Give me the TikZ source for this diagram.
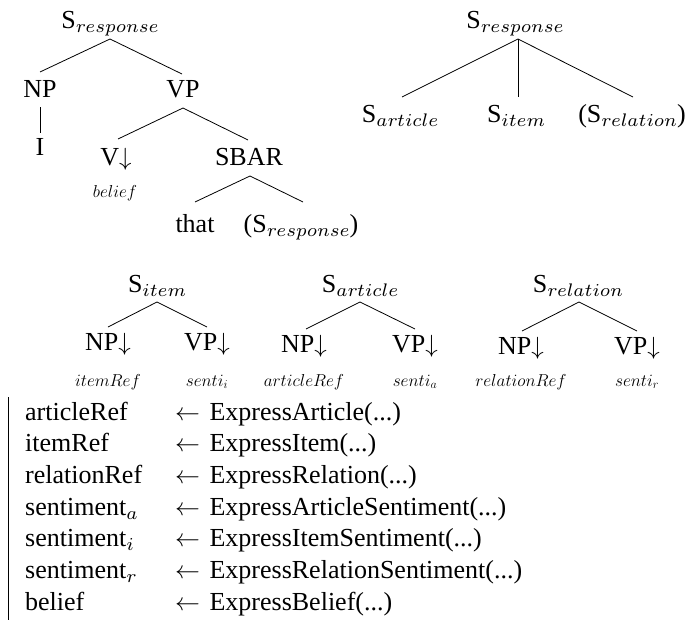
\documentclass[tikz,border=0pt]{standalone}
\usepackage{fontspec}
\setmainfont{Liberation Serif}
% subscripts in the 7pt design of the math italic, scaled up
\font\lmsubfont=cmmi7 at 18.2pt
\newcommand\subsc[1]{\raisebox{-4pt}{\lmsubfont #1}}
\newcommand\ruleArrow{$\leftarrow$\hspace{3pt} }
\begin{document}
\begin{tikzpicture}[x=1pt,y=-1pt,
  cat/.style={anchor=base, inner sep=0pt, font=\fontsize{26}{31}\selectfont},
  lex/.style={anchor=base, inner sep=0pt, font=\fontsize{18.2}{22}\selectfont},
  row/.style={anchor=base west, inner sep=0pt, font=\fontsize{26}{31}\selectfont},
  edge/.style={line width=0.8pt}]
\useasboundingbox (0,0) rectangle (688,621);

% ---- elementary tree for a belief response ----
\node[cat] (r1)   at (110,28)  {S\subsc{response}};
\node[cat] (np1)  at (40,97)   {NP};
\node[cat] (vp1)  at (183,97)  {VP};
\node[cat] (i1)   at (40,155)  {I};
\node[cat] (v1)   at (116,165) {V$\downarrow$};
\node[cat] (sbar) at (249,165) {SBAR};
\node[lex] (bel)  at (115,197) {$belief$};
\node[cat] (that) at (195,232) {that};
\node[cat] (rs)   at (301,232) {(S\subsc{response})};

\draw[edge] ([yshift=-11pt]r1.base) -- ([yshift=25pt]np1.base);
\draw[edge] ([yshift=-11pt]r1.base) -- ([xshift=-1pt,yshift=23pt]vp1.base);
\draw[edge] ([yshift=-10pt]np1.base) -- ([yshift=22pt]i1.base);
\draw[edge] ([yshift=-11pt]vp1.base) -- ([xshift=2pt,yshift=26pt]v1.base);
\draw[edge] ([yshift=-11pt]vp1.base) -- ([xshift=-1pt,yshift=25pt]sbar.base);
\draw[edge] ([xshift=1pt,yshift=-11pt]sbar.base) -- ([yshift=30pt]that.base);
\draw[edge] ([xshift=1pt,yshift=-11pt]sbar.base) -- ([xshift=2pt,yshift=30pt]rs.base);

% ---- response expansion ----
\node[cat] (r2) at (515,28)  {S\subsc{response}};
\node[cat] (sa) at (400,122) {S\subsc{article}};
\node[cat] (si) at (516,122) {S\subsc{item}};
\node[cat] (sr) at (632,122) {(S\subsc{relation})};

\draw[edge] ([xshift=3pt,yshift=-11pt]r2.base) -- ([xshift=2pt,yshift=25pt]sa.base);
\draw[edge] ([xshift=3pt,yshift=-11pt]r2.base) -- ([xshift=2pt,yshift=25pt]si.base);
\draw[edge] ([xshift=3pt,yshift=-11pt]r2.base) -- ([xshift=1pt,yshift=25pt]sr.base);

% ---- item, article and relation trees ----
\node[cat] (ti)  at (157,292) {S\subsc{item}};
\node[cat] (npi) at (108,350) {NP$\downarrow$};
\node[cat] (vpi) at (207,350) {VP$\downarrow$};
\node[lex] (li)  at (108,386) {$itemRef$};
\node[lex] (si2) at (207,386) {$senti_i$};
\draw[edge] ([yshift=-10pt]ti.base) -- ([yshift=23pt]npi.base);
\draw[edge] ([yshift=-10pt]ti.base) -- ([yshift=23pt]vpi.base);

\node[cat] (ta)  at (360,292) {S\subsc{article}};
\node[cat] (npa) at (304,352) {NP$\downarrow$};
\node[cat] (vpa) at (415,352) {VP$\downarrow$};
\node[lex] (la)  at (304,386) {$articleRef$};
\node[lex] (sa2) at (415,386) {$senti_a$};
\draw[edge] ([yshift=-10pt]ta.base) -- ([xshift=2pt,yshift=23pt]npa.base);
\draw[edge] ([yshift=-10pt]ta.base) -- ([yshift=23pt]vpa.base);

\node[cat] (tr)  at (578,292) {S\subsc{relation}};
\node[cat] (npr) at (521,354) {NP$\downarrow$};
\node[cat] (vpr) at (637,354) {VP$\downarrow$};
\node[lex] (lr)  at (521,386) {$relationRef$};
\node[lex] (sr2) at (637,386) {$senti_r$};
\draw[edge] ([xshift=1pt,yshift=-10pt]tr.base) -- ([xshift=1pt,yshift=23pt]npr.base);
\draw[edge] ([xshift=1pt,yshift=-10pt]tr.base) -- ([yshift=23pt]vpr.base);

% ---- realisation rules ----
\coordinate (bartop) at (8,397);
\coordinate (barbot) at (8,620);
\draw[edge] (bartop) -- (barbot);

\node[row] (k1) at (25,420)   {articleRef};
\node[row] (k2) at (25,451.7) {itemRef};
\node[row] (k3) at (25,483.4) {relationRef};
\node[row] (k4) at (25,515.1) {sentiment\subsc{a}};
\node[row] (k5) at (25,546.8) {sentiment\subsc{i}};
\node[row] (k6) at (25,578.5) {sentiment\subsc{r}};
\node[row] (k7) at (25,610.2) {belief};

\node[row] (e1) at (175,420)   {\ruleArrow ExpressArticle(...)};
\node[row] (e2) at (175,451.7) {\ruleArrow ExpressItem(...)};
\node[row] (e3) at (175,483.4) {\ruleArrow ExpressRelation(...)};
\node[row] (e4) at (175,515.1) {\ruleArrow ExpressArticleSentiment(...)};
\node[row] (e5) at (175,546.8) {\ruleArrow ExpressItemSentiment(...)};
\node[row] (e6) at (175,578.5) {\ruleArrow ExpressRelationSentiment(...)};
\node[row] (e7) at (175,610.2) {\ruleArrow ExpressBelief(...)};
\end{tikzpicture}
\end{document}
